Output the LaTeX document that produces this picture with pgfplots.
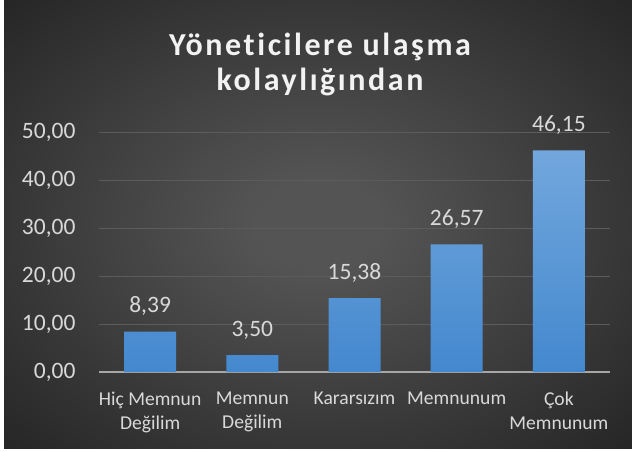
\documentclass[border=0pt]{standalone}
\usepackage{fontspec}
\setmainfont{Carlito}[Ligatures=NoCommon]
\newfontfamily\titlefont{Carlito}[LetterSpace=8, Ligatures=NoCommon]
\usepackage{pgfplots}
\pgfplotsset{compat=1.18}
\definecolor{bgin}{RGB}{84,84,84}
\definecolor{bgout}{RGB}{37,37,37}
\definecolor{txt}{RGB}{217,217,217}
\definecolor{titlec}{RGB}{242,242,242}
\definecolor{gridc}{RGB}{92,92,92}
\definecolor{axc}{RGB}{166,166,166}
\definecolor{bartop}{RGB}{114,167,221}
\definecolor{barbot}{RGB}{68,136,206}
\pgfdeclareradialshading{bgshade}{\pgfpoint{0bp}{0bp}}{color(0bp)=(bgin); color(5bp)=(bgin); color(36bp)=(bgout); color(50bp)=(bgout)}
\begin{document}
\begin{tikzpicture}
\fill[white] (0,0) rectangle (632pt,451pt);
\shade[shading=bgshade] (4pt,3pt) rectangle (632pt,451pt);
\begin{axis}[
  at={(99pt,79pt)}, anchor=south west,
  scale only axis, width=511pt, height=240pt,
  ymin=0, ymax=50, xmin=-0.5, xmax=4.5,
  ytick={0,10,20,30,40,50},
  ybar, bar width=52pt,
  axis line style={draw=none},
  major tick length=0pt,
  ymajorgrids, grid style={gridc, line width=1pt},
  extra y ticks={0}, extra y tick labels={},
  extra y tick style={grid style={axc, line width=1.6pt}},
  scaled y ticks=false,
  yticklabel style={font=\fontsize{23.5}{27}\selectfont, color=txt, anchor=east, xshift=-20pt,
    /pgf/number format/fixed, /pgf/number format/fixed zerofill,
    /pgf/number format/precision=2, /pgf/number format/use comma,
    /pgf/number format/assume math mode=true},
  xtick=data,
  xticklabels={{Hiç Memnun\\Değilim},{Memnun\\Değilim},Kararsızım,Memnunum,{Çok\\Memnunum}},
  xticklabel style={align=center, font=\fontsize{19.6}{24}\selectfont, color=txt, anchor=north, yshift=-16pt},
  nodes near coords,
  nodes near coords style={font=\fontsize{23.5}{27}\selectfont, color=txt, anchor=base, yshift=19pt,
    /pgf/number format/fixed, /pgf/number format/fixed zerofill,
    /pgf/number format/precision=2, /pgf/number format/use comma,
    /pgf/number format/assume math mode=true},
  clip=false,
]
\addplot[draw=none, top color=bartop, bottom color=barbot] coordinates {(0,8.39) (1,3.50) (2,15.38) (3,26.57) (4,46.15)};
\end{axis}
\node[align=center, text=titlec, font=\titlefont\bfseries\fontsize{32}{35}\selectfont] at (320pt,387pt) {Yöneticilere ulaşma\\kolaylığından};
\pgfresetboundingbox
\useasboundingbox (0,0) rectangle (632pt,451pt);
\end{tikzpicture}
\end{document}
